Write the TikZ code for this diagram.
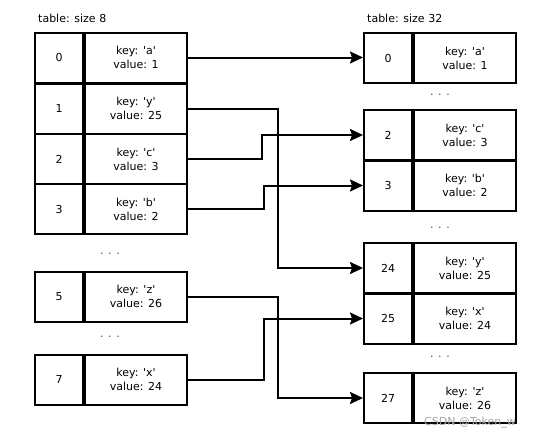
\documentclass[tikz,border=0pt]{standalone}
\usepackage{fontspec}
\setmainfont{DejaVu Sans}
\usetikzlibrary{positioning,arrows.meta}
\tikzset{
  cell/.style={
    draw=black,
    line width=2pt,
    minimum height=50pt,
    inner sep=0pt,
    align=center,
    font=\fontsize{11}{14}\selectfont
  },
  idx-cell/.style={cell, minimum width=48pt},
  kv-cell/.style={cell, minimum width=102pt},
  link/.style={line width=2pt, -{Stealth[length=13pt,width=12pt,inset=2pt]}},
  gap-dots/.style={font=\fontsize{11}{14}\selectfont, text=black!70, inner sep=1pt},
  title-text/.style={font=\fontsize{11}{14}\selectfont, anchor=west, inner sep=0pt},
  mark-text/.style={font=\fontsize{11}{14}\selectfont, text=black!35, anchor=west, inner sep=0pt}
}
\newcommand{\keyval}[2]{key: \textquotesingle#1\textquotesingle\\value: #2}

\begin{document}
\begin{tikzpicture}[x=1pt,y=-1pt]
  \useasboundingbox (0,0) rectangle (538,439);

  % table: size 8
  \node[title-text] (ltitle) at (38,18) {table: size 8};
  \foreach \n/\k/\v/\y in {0/a/1/57.5, 1/y/25/108.5, 2/c/3/159, 3/b/2/209, 5/z/26/296.5, 7/x/24/379.5} {
    \node[idx-cell] (L\n) at (59,\y) {\n};
    \node[kv-cell, right=0pt of L\n] (L\n kv) {\keyval{\k}{\v}};
  }
  \node[gap-dots] (ldots1) at (110,254) {. . .};
  \node[gap-dots] (ldots2) at (110,337) {. . .};

  % table: size 32
  \node[title-text] (rtitle) at (367,18) {table: size 32};
  \foreach \n/\k/\v/\y in {0/a/1/58, 2/c/3/135, 3/b/2/185.5, 24/y/25/268, 25/x/24/318.5, 27/z/26/398} {
    \node[idx-cell] (R\n) at (388,\y) {\n};
    \node[kv-cell, right=0pt of R\n] (R\n kv) {\keyval{\k}{\v}};
  }
  \node[gap-dots] (rdots1) at (440,95) {. . .};
  \node[gap-dots] (rdots2) at (440,228) {. . .};
  \node[gap-dots] (rdots3) at (440,357) {. . .};

  % rehash moves
  \draw[link] (L0kv.east) -- (L0kv.east -| R0.west);
  \draw[link] (L1kv.east) -- ++(90,0) |- (R24.west);
  \draw[link] (L2kv.east) -- ++(74,0) |- (R2.west);
  \draw[link] (L3kv.east) -- ++(76,0) |- (R3.west);
  \draw[link] (L5kv.east) -- ++(90,0) |- (R27.west);
  \draw[link] (L7kv.east) -- ++(76,0) |- (R25.west);

  \node[mark-text] (wmark) at (424,423) {CSDN @Token\_w};
\end{tikzpicture}
\end{document}
